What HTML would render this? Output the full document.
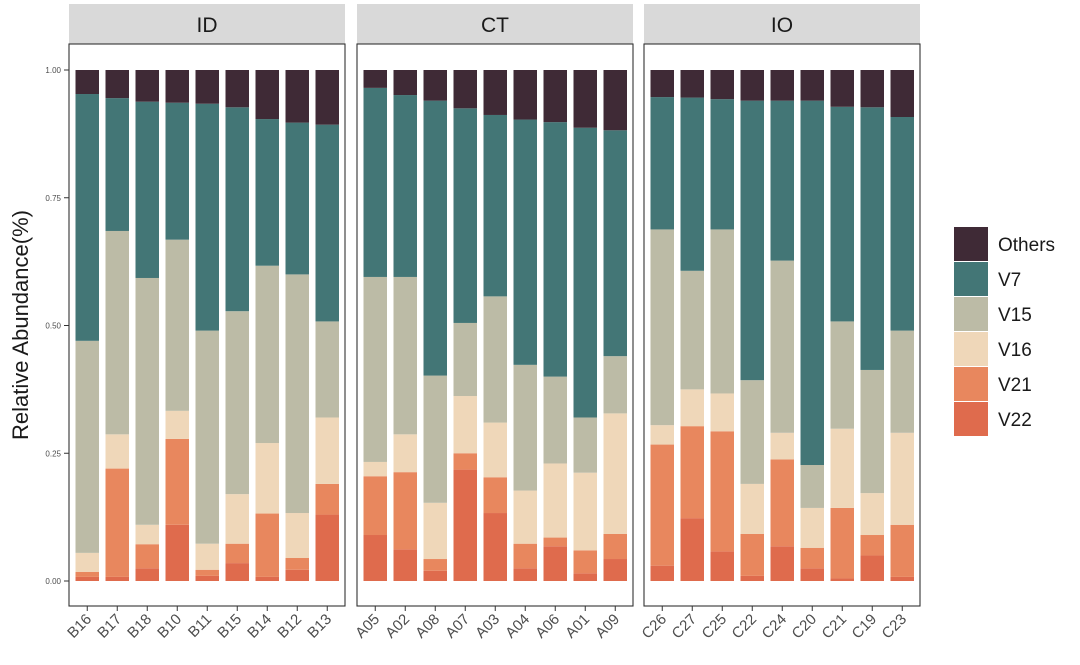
<!DOCTYPE html>
<html><head><meta charset="utf-8"><style>
body{margin:0;background:#fff;}
svg text{font-family:"Liberation Sans",sans-serif;}
</style></head><body>
<svg id="c" width="1080" height="660" xmlns="http://www.w3.org/2000/svg"></svg>
<script>
const panels = ["ID","CT","IO"];
const categories = [
 ["B16","B17","B18","B10","B11","B15","B14","B12","B13"],
 ["A05","A02","A08","A07","A03","A04","A06","A01","A09"],
 ["C26","C27","C25","C22","C24","C20","C21","C19","C23"]];
const seriesNames = ["V22","V21","V16","V15","V7","Others"];
// cumulative tops of each layer (from bottom), Others fills to 1
const cumV22 = [[.008,.008,.025,.11,.01,.035,.008,.022,.13],[.09,.062,.02,.218,.133,.025,.068,.015,.043],[.03,.123,.058,.01,.068,.025,.005,.05,.008]];
const cumV21 = [[.018,.22,.072,.278,.022,.073,.132,.045,.19],[.205,.213,.043,.25,.203,.073,.085,.06,.092],[.267,.303,.293,.092,.238,.065,.143,.09,.11]];
const cumV16 = [[.055,.287,.11,.333,.073,.17,.27,.133,.32],[.233,.287,.153,.362,.31,.177,.23,.212,.328],[.305,.375,.367,.19,.29,.143,.298,.172,.29]];
const cumV15 = [[.47,.685,.593,.668,.49,.528,.617,.6,.508],[.595,.595,.402,.505,.557,.423,.4,.32,.44],[.688,.607,.688,.393,.627,.227,.508,.413,.49]];
const cumV7 = [[.953,.945,.938,.936,.934,.927,.904,.897,.893],[.965,.951,.94,.925,.912,.903,.898,.887,.882],[.947,.946,.943,.94,.94,.94,.928,.927,.908]];
const cumOthers = [[1,1,1,1,1,1,1,1,1],[1,1,1,1,1,1,1,1,1],[1,1,1,1,1,1,1,1,1]];
const yTicks = [0,0.25,0.5,0.75,1];
const yTickLabels = ["0.00","0.25","0.50","0.75","1.00"];
const colors = {V22:"#df6b4d",V21:"#e8875e",V16:"#efd7b9",V15:"#bcbba6",V7:"#437676",Others:"#3f2a36"};

const NS="http://www.w3.org/2000/svg";
const svg=document.getElementById('c');
function mk(t,a,p){const e=document.createElementNS(NS,t);for(const k in a)e.setAttribute(k,a[k]);(p||svg).appendChild(e);return e;}
const panelLeft=[69,357,644], panelW=276, plotTop=44, plotBottom=606;
function yScale(v){return 581-v*511;}
function xScale(p,i){return panelLeft[p]+6.5+i*30;}
const barW=23.5;
const cums=[cumV22,cumV21,cumV16,cumV15,cumV7,cumOthers];

panels.forEach((pn,p)=>{
  const pl=panelLeft[p];
  const s=mk('rect',{x:pl,y:4,width:panelW,height:40,fill:'#d9d9d9'});
  
  
  const st=mk('text',{x:pl+panelW/2,y:32,'text-anchor':'middle','font-size':21,fill:'#1a1a1a'});
  st.textContent=pn;
  
  
  const g=mk('g',{});
  
  
  categories[p].forEach((c,i)=>{
    const x=xScale(p,i);
    let prev=0;
    seriesNames.forEach((sn,k)=>{
      const t=cums[k][p][i];
      const r=mk('rect',{x:x,y:yScale(t),width:barW,height:Math.max(0,yScale(prev)-yScale(t)),fill:colors[sn]},g);
      
      
      prev=t;
    });
    const cx=x+barW/2;
    mk('line',{x1:cx,x2:cx,y1:plotBottom,y2:plotBottom+5,stroke:'#333','stroke-width':1});
    const lt=mk('text',{x:cx+5,y:plotBottom+14,'text-anchor':'end','font-size':15,fill:'#4d4d4d',transform:`rotate(-45 ${cx+5} ${plotBottom+14})`});
    lt.textContent=c;
    
    
  });
  const b=mk('rect',{x:pl,y:plotTop,width:panelW,height:plotBottom-plotTop,fill:'none',stroke:'#333','stroke-width':1.1});
  
  
});
yTicks.forEach((v,i)=>{
  const y=yScale(v);
  mk('line',{x1:64,x2:69,y1:y,y2:y,stroke:'#333','stroke-width':1});
  const t=mk('text',{x:61,y:y+3,'text-anchor':'end','font-size':8,fill:'#4d4d4d'});
  t.textContent=yTickLabels[i];
  
  
});
const yt=mk('text',{x:28,y:325,'text-anchor':'middle','font-size':22,fill:'#1a1a1a',transform:'rotate(-90 28 325)'});
yt.textContent='Relative Abundance(%)';


const legendOrder=["Others","V7","V15","V16","V21","V22"];
legendOrder.forEach((sn,i)=>{
  const y=227+i*35;
  const r=mk('rect',{x:954,y:y,width:34,height:34,fill:colors[sn]});
  
  
  const t=mk('text',{x:998,y:y+24,'font-size':19,fill:'#1a1a1a'});
  t.textContent=sn;
  
  
});
</script>
</body></html>
